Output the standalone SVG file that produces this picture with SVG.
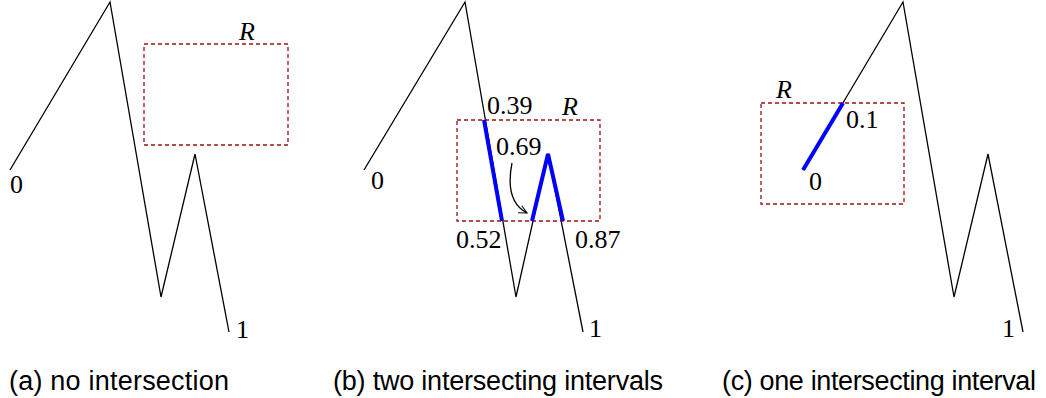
<svg xmlns="http://www.w3.org/2000/svg" width="1046" height="398" viewBox="0 0 1046 398">
<style>
.curve{fill:none;stroke:#000;stroke-width:1.3;stroke-linejoin:miter}
.hit{fill:none;stroke:#0000ff;stroke-width:4;stroke-linejoin:miter}
.reg{fill:none;stroke:#a01010;stroke-width:1.3;stroke-dasharray:4 3}
.num{font-family:"Liberation Serif","Times New Roman",serif;font-size:26px;fill:#000}
.rl{font-family:"Liberation Serif","Times New Roman",serif;font-size:26px;font-style:italic;fill:#000}
.cap{font-family:"Liberation Sans",Arial,sans-serif;font-size:27px;fill:#000}
</style>
<defs>
<marker id="open" markerWidth="10" markerHeight="10" refX="9" refY="5" orient="auto" markerUnits="userSpaceOnUse">
<path d="M1,1 L9,5 L1,9" fill="none" stroke="#000" stroke-width="1.1"/>
</marker>
</defs>
<g id="panel-a">
<polyline class="curve" points="10,170 110,2 161,297 195,154 229,332"/>
<rect id="region-a" class="reg" x="144" y="44" width="144" height="101"/>
<text class="rl" x="239" y="40">R</text>
<text class="num" x="10" y="193">0</text>
<text class="num" x="236" y="338">1</text>
<text class="cap" x="9" y="390" textLength="220">(a) no intersection</text>
</g>
<g id="panel-b">
<polyline class="curve" points="364,170 465,2 516,297 548,154 583,332"/>
<rect id="region-b" class="reg" x="457" y="120" width="143" height="101"/>
<polyline class="hit" points="484,120 502,221"/>
<polyline class="hit" points="532,221 548,154 563,221"/>
<text class="num" x="487" y="114">0.39</text>
<text class="rl" x="562" y="115">R</text>
<text class="num" x="496" y="155">0.69</text>
<text class="num" x="456" y="248">0.52</text>
<text class="num" x="575" y="248">0.87</text>
<text class="num" x="371" y="189">0</text>
<text class="num" x="589" y="337">1</text>
<text class="cap" x="333" y="390" textLength="330">(b) two intersecting intervals</text>
</g>
<g id="panel-c">
<polyline class="curve" points="803,170 903,2 954,297 988,154 1023,332"/>
<rect id="region-c" class="reg" x="761" y="103" width="143" height="101"/>
<polyline class="hit" points="803,170 843,103"/>
<text class="rl" x="776" y="98">R</text>
<text class="num" x="846" y="128">0.1</text>
<text class="num" x="809" y="190">0</text>
<text class="num" x="1002" y="337">1</text>
<text class="cap" x="722" y="390" textLength="314">(c) one intersecting interval</text>
</g>
<g id="connectors">
<path class="curve" d="M512,163 C507,188 512,205 527,213" stroke-width="1.1" marker-end="url(#open)"/>
</g>
</svg>
